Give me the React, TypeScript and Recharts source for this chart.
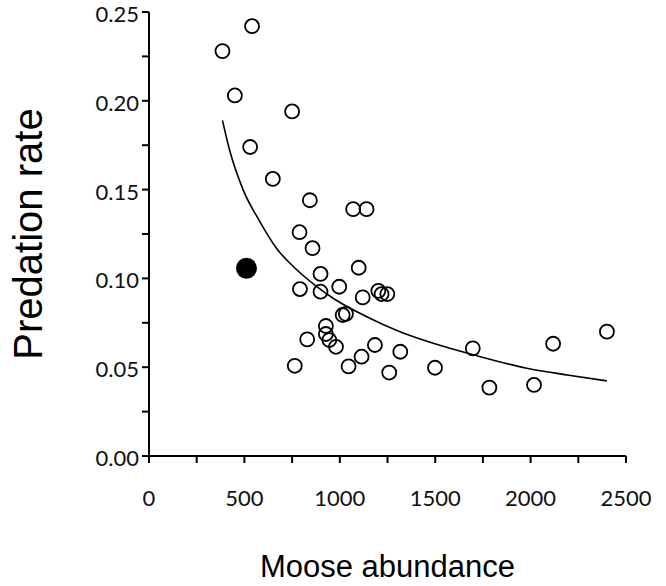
import { ComposedChart, Scatter, Line, XAxis, YAxis, Label } from "recharts";

// open circles: moose abundance vs predation rate
const mooseOpen = [
  540, 385, 450, 750, 530, 649, 843, 1070, 1140, 789,
  857, 1099, 899, 791, 899, 997, 1120, 1202, 1219, 1249,
  1015, 1032, 927, 927, 945, 980, 829, 764, 1046, 1114,
  1184, 1259, 1317, 1499, 1697, 1784, 2018, 2118, 2400,
];
const rateOpen = [
  0.242, 0.228, 0.203, 0.194, 0.174, 0.156, 0.144, 0.139, 0.139, 0.126,
  0.117, 0.106, 0.1025, 0.094, 0.0925, 0.0953, 0.0893, 0.093, 0.0912, 0.0912,
  0.0794, 0.08, 0.0732, 0.0687, 0.0653, 0.0615, 0.0657, 0.0508, 0.0505, 0.0559,
  0.0625, 0.047, 0.0587, 0.0497, 0.0606, 0.0385, 0.04, 0.0632, 0.07,
];

// the single filled point
const mooseFilled = [511];
const rateFilled = [0.1057];

// fitted curve
const curveMoose = [385, 423, 493, 581, 668, 773, 878, 965, 1141, 1315, 1490, 1700, 1980, 2200, 2400];
const curveRate = [0.189, 0.172, 0.15, 0.132, 0.117, 0.105, 0.0955, 0.0888, 0.0784, 0.07, 0.0635, 0.057, 0.0494, 0.0455, 0.0423];

const xTicks = [0, 250, 500, 750, 1000, 1250, 1500, 1750, 2000, 2250, 2500];
const yTicks = [0, 0.025, 0.05, 0.075, 0.1, 0.125, 0.15, 0.175, 0.2, 0.225, 0.25];

const openPts = mooseOpen.map((x, i) => ({ x, y: rateOpen[i] }));
const filledPts = mooseFilled.map((x, i) => ({ x, y: rateFilled[i] }));
const curve = curveMoose.map((x, i) => ({ x, y: curveRate[i] }));

const tickFont = "Lato, sans-serif";
const tickStyle = { fill: "#111", fontSize: 22, fontFamily: tickFont };
const axisStroke = { stroke: "#000", strokeWidth: 2 };
const titleFont = "Liberation Sans, Arial, sans-serif";

const OpenDot = (p: any) => (
  <circle cx={p.cx} cy={p.cy} r={7} fill="none" stroke="#000" strokeWidth={1.8} />
);
const FilledDot = (p: any) => <circle cx={p.cx} cy={p.cy} r={10.5} fill="#000" />;

// only every other y tick gets a label
const YTick = ({ x, y, payload }: any) => {
  const v = payload.value;
  if (Math.round(v * 1000) % 50 !== 0) return <g />;
  return (
    <text x={x} y={y} dy={10} textAnchor="end" fill="#111" fontSize={22} fontFamily={tickFont}>
      {v.toFixed(2)}
    </text>
  );
};

export default function App() {
  return (
    <div style={{ position: "absolute", left: 0, top: 0, background: "#fff" }}>
      <ComposedChart width={666} height={586} margin={{ top: 12, right: 40, left: 0, bottom: 0 }}>
        <XAxis
          type="number"
          dataKey="x"
          domain={[0, 2500]}
          ticks={xTicks}
          interval={0}
          tickFormatter={(v: number) => (v % 500 === 0 ? String(v) : "")}
          tick={tickStyle}
          tickSize={7}
          tickMargin={27}
          axisLine={axisStroke}
          tickLine={axisStroke}
          height={130}
        >
          <Label
            value="Moose abundance"
            position="insideBottom"
            offset={9}
            style={{ fill: "#000", fontSize: 31, fontFamily: titleFont }}
          />
        </XAxis>
        <YAxis
          type="number"
          dataKey="y"
          domain={[0, 0.25]}
          ticks={yTicks}
          interval={0}
          tick={YTick}
          tickSize={7}
          tickMargin={3}
          axisLine={axisStroke}
          tickLine={axisStroke}
          width={149}
        >
          <Label
            value="Predation rate"
            angle={-90}
            position="insideLeft"
            offset={28}
            style={{ fill: "#000", fontSize: 40, fontFamily: titleFont, textAnchor: "middle" }}
          />
        </YAxis>
        <Line
          data={curve}
          dataKey="y"
          type="monotone"
          stroke="#000"
          strokeWidth={1.6}
          dot={false}
          activeDot={false}
          isAnimationActive={false}
        />
        <Scatter data={openPts} dataKey="y" shape={OpenDot} isAnimationActive={false} />
        <Scatter data={filledPts} dataKey="y" shape={FilledDot} isAnimationActive={false} />
      </ComposedChart>
    </div>
  );
}
